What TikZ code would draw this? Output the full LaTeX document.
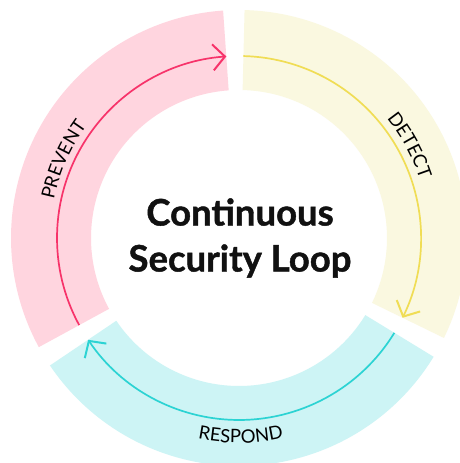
\documentclass[tikz,border=0pt]{standalone}
\usepackage{fontspec}
\setmainfont{Lato}
\newfontfamily\heavyfont{Lato}[BoldFeatures={FakeBold=1.2}]
\usetikzlibrary{arrows.meta,decorations.text}

\definecolor{preventfill}{HTML}{FFD5DF}
\definecolor{preventline}{HTML}{F7336A}
\definecolor{detectfill}{HTML}{FAF8E0}
\definecolor{detectline}{HTML}{F0DD55}
\definecolor{respondfill}{HTML}{CDF4F5}
\definecolor{respondline}{HTML}{2CD3D3}
\definecolor{inkblack}{HTML}{111111}

\newcommand{\stagefont}{\fontsize{18.5}{18.5}\selectfont}

\begin{document}
\begin{tikzpicture}[
    x=1pt, y=1pt,
    looparrow/.style={line width=1.7pt, -{Straight Barb[length=12pt, width=26pt, line width=2pt]}},
    titlebox/.style={align=center, text=inkblack, font=\heavyfont\fontsize{36.5}{46}\selectfont\bfseries},
    stagetext/.style={decorate, decoration={text along path, text align=center, text={|\stagefont|#1}}}
]
\useasboundingbox (-239,-225) rectangle (221,238);
\fill[white] (-239,-225) rectangle (221,238);

% ring sectors, inner radius 148, outer 228
\foreach \fillcol/\from [evaluate=\from as \upto using \from+114.6] in {detectfill/-26, preventfill/94, respondfill/214}
  \fill[\fillcol] (\from:148) arc[start angle=\from, end angle=\upto, radius=148]
    -- (\upto:228) arc[start angle=\upto, end angle=\from, radius=228] -- cycle;

% clockwise arrows on each sector
\draw[looparrow, preventline] (208.6:182) arc[start angle=208.6, end angle=94, radius=182];
\draw[looparrow, detectline] (88.6:182) arc[start angle=88.6, end angle=-26, radius=182];
\draw[looparrow, respondline] (-31.4:182) arc[start angle=-31.4, end angle=-146, radius=182];

% stage names along the ring
\path[stagetext=PREVENT] (196:189) arc[start angle=196, end angle=116, radius=189];
\path[stagetext=DETECT] (68.5:190) arc[start angle=68.5, end angle=-11.5, radius=190];
\path[stagetext=RESPOND] (230.5:205) arc[start angle=230.5, end angle=310.5, radius=205];

\node[titlebox] (title) at (1,0) {Continuous\\Security Loop};
\end{tikzpicture}
\end{document}
